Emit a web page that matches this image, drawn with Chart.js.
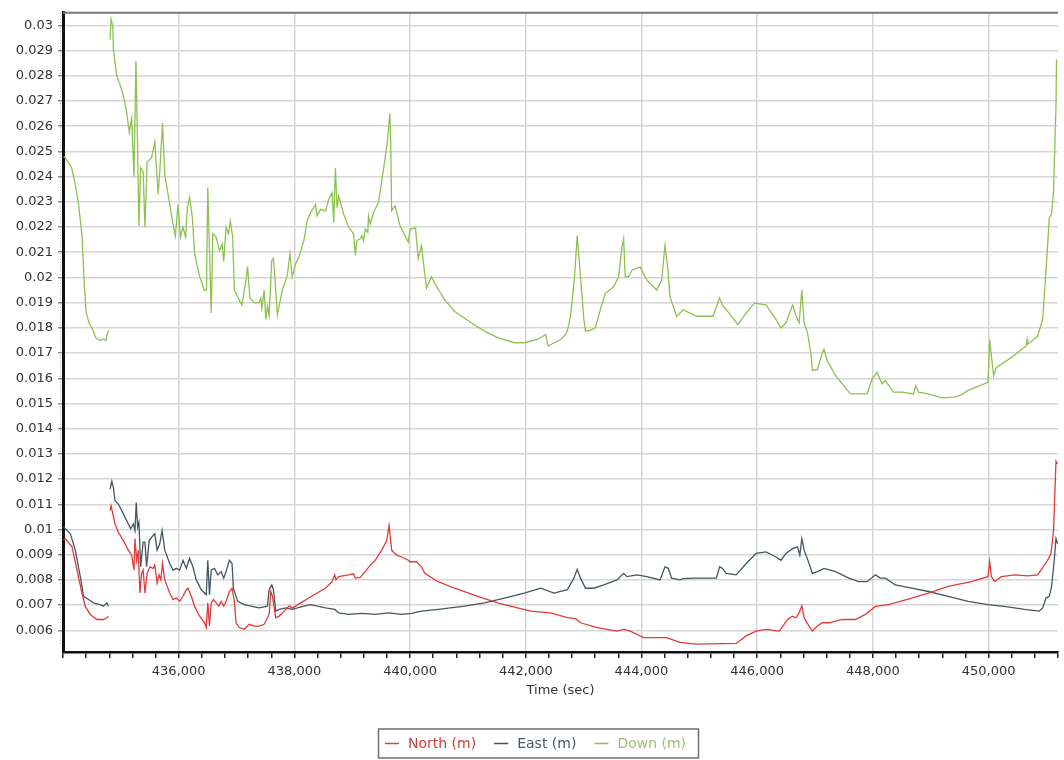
<!DOCTYPE html>
<html>
<head>
<meta charset="utf-8">
<script src="https://cdn.jsdelivr.net/npm/chart.js@4.4.1/dist/chart.umd.min.js"></script>
<style>
html,body{margin:0;padding:0;background:#fff;}
#wrap{width:1064px;height:760px;position:relative;}
</style>
</head>
<body>
<div id="wrap"><canvas id="c" width="1064" height="760"></canvas></div>
<script>
// ---- data (time in sec, values in m) ----
const northTime = [434010,434041,434156,434242,434328,434385,434471,434586,434699,434758,434785,434800,
434814,434832,434861,434900,434957,435043,435129,435187,435227,435244,435273,435301,435330,435359,435386,435416,435455,435502,435558,435587,435627,435661,435691,435720,435759,435845,435902,435960,436017,436074,436132,436160,436218,436275,436361,436446,436476,436503,436532,436562,436601,436647,436692,436733,436778,436819,436876,436922,436962,436991,437048,437134,437220,437305,437391,437477,437534,437563,437592,437620,437678,437735,437821,437907,437963,438022,438108,438250,438393,438537,438651,438697,438719,438766,438938,439023,439053,439139,439224,439281,439396,439510,439596,439637,439681,439767,439853,439968,439998,440111,440197,440255,440484,440771,441171,441515,441858,442087,442430,442717,442860,442946,443233,443576,443691,443805,444035,444435,444664,444951,445638,445810,445981,446153,446382,446526,446612,446669,446725,446772,446811,446897,446955,447041,447127,447241,447471,447699,447871,448043,448271,448673,448959,449302,449704,449990,450019,450048,450105,450220,450448,450677,450848,450907,451020,451079,451123,451165,451190];
const northValue = [0.0096,0.00964,0.00931,0.00839,0.00748,0.00695,0.00663,0.00643,0.00643,0.0065,0.00656,null,
0.01075,0.01094,0.01062,0.01022,0.00989,0.00957,0.00918,0.00898,0.00839,0.00964,0.00878,0.00918,0.00748,0.00826,0.00839,0.00748,0.00826,0.00852,0.00846,0.00859,0.00787,0.0082,0.008,0.00865,0.008,0.00748,0.00722,0.00728,0.00715,0.00735,0.00761,0.00767,0.00735,0.00695,0.00656,0.0063,0.00611,0.00709,0.00617,0.00709,0.00722,0.00709,0.00696,0.00715,0.00696,0.00715,0.00754,0.00767,0.00715,0.0063,0.00611,0.00604,0.00624,0.00617,0.00617,0.00624,0.0065,0.00663,0.00754,0.00735,0.0065,0.00656,0.00676,0.00696,0.00689,0.00696,0.00709,0.00728,0.00748,0.00767,0.00793,0.0082,0.008,0.00813,0.0082,0.00824,0.00807,0.0081,0.00833,0.0085,0.00878,0.00918,0.00957,0.01016,0.00918,0.00898,0.00891,0.00878,0.00872,0.00872,0.00852,0.00826,0.00793,0.00767,0.00735,0.00709,0.00689,0.00676,0.00669,0.0065,0.00646,0.0063,0.00611,0.00597,0.00604,0.00597,0.00571,0.00571,0.00552,0.00545,0.00548,0.00578,0.00597,0.00604,0.00597,0.00643,0.00656,0.0065,0.00669,0.00698,0.0065,0.00617,0.00597,0.00617,0.0063,0.0063,0.00643,0.00643,0.00663,0.00695,0.00702,0.00728,0.00748,0.00774,0.00793,0.00813,0.00872,0.00813,0.00793,0.00813,0.0082,0.00816,0.0082,0.00839,0.00878,0.00905,0.00996,0.01271,0.0126];

const eastTime = [434010,434041,434127,434213,434299,434356,434442,434527,434643,434699,434758,434785,434800,
434814,434844,434871,434900,434957,435043,435129,435170,435215,435244,435266,435290,435313,435342,435386,435416,435445,435490,435558,435587,435627,435673,435713,435759,435845,435902,435960,436017,436074,436132,436189,436245,436304,436390,436476,436503,436532,436562,436618,436675,436733,436778,436819,436876,436922,436945,437019,437134,437249,437391,437534,437563,437609,437637,437678,437735,437850,437963,438164,438280,438537,438697,438766,438938,439166,439396,439625,439853,440025,440197,440484,440942,441286,441630,441973,442258,442489,442717,442832,442889,442946,443032,443176,443348,443576,443662,443691,443748,443920,444092,444320,444406,444464,444521,444664,444722,444951,445294,445351,445397,445466,445638,445810,445981,446153,446325,446411,446497,446612,446698,446737,446772,446811,446897,446955,447041,447155,447356,447584,447756,447900,448043,448129,448215,448387,448673,448959,449302,449646,449990,450333,450620,450878,450934,450993,451050,451089,451135,451165,451192];
const eastValue = [0.0101,0.01003,0.00983,0.00918,0.00813,0.00735,0.00722,0.00709,0.00702,0.00696,0.00709,0.00696,null,
0.0116,0.01192,0.01166,0.01114,0.01101,0.01062,0.01022,0.01003,0.01022,0.00996,0.01107,0.01009,0.01029,0.00852,0.0095,0.0095,0.00852,0.00957,0.00976,0.00983,0.00918,0.00944,0.00996,0.00918,0.00865,0.00839,0.00846,0.00839,0.00878,0.00846,0.00885,0.00852,0.008,0.00761,0.00741,0.00878,0.00741,0.00839,0.00846,0.0082,0.00833,0.00807,0.00833,0.00878,0.00865,0.00767,0.00715,0.00702,0.00696,0.00689,0.00696,0.00761,0.0078,0.00761,0.00676,0.00683,0.00689,0.00683,0.00696,0.00702,0.00689,0.00683,0.00669,0.00663,0.00667,0.00663,0.00669,0.00663,0.00667,0.00676,0.00683,0.00696,0.00709,0.00728,0.00748,0.00767,0.00748,0.00761,0.00807,0.00842,0.00807,0.00767,0.00767,0.0078,0.008,0.0082,0.00826,0.00813,0.0082,0.00813,0.008,0.00852,0.00846,0.00807,0.008,0.00805,0.00807,0.00807,0.00852,0.00846,0.00826,0.0082,0.00865,0.00905,0.00911,0.00891,0.00878,0.00905,0.00924,0.00931,0.00898,0.00964,0.00918,0.00865,0.00826,0.00833,0.00846,0.00833,0.00807,0.00793,0.00793,0.0082,0.00807,0.00807,0.0078,0.00767,0.00754,0.00735,0.00715,0.00702,0.00693,0.00683,0.00676,0.00689,0.00728,0.00735,0.00774,0.00878,0.00964,0.00944];

const downTime = [434010,434040,434150,434210,434270,434330,434370,434400,434450,434500,434570,434640,434700,434740,434770,434790,434800,
434814,434832,434861,434871,434929,434974,435043,435101,435146,435187,435227,435261,435283,435313,435342,435386,435416,435455,435531,435587,435644,435673,435720,435759,435845,435902,435943,435988,436029,436074,436120,436149,436189,436235,436275,436361,436446,436480,436503,436562,436589,436647,436704,436751,436778,436819,436859,436893,436933,436962,437094,437163,437190,437232,437305,437391,437420,437438,437477,437506,437534,437563,437609,437637,437666,437706,437792,437878,437924,437963,438022,438079,438164,438221,438280,438365,438393,438451,438537,438594,438651,438680,438709,438737,438766,438852,438938,439023,439053,439080,439139,439166,439195,439224,439269,439281,439310,439367,439453,439510,439568,439613,439650,439664,439681,439740,439826,439968,439998,440094,440140,440197,440226,440283,440369,440427,440599,440771,441056,441286,441515,441801,441973,442202,442344,442386,442489,442602,442688,442717,442774,442843,442889,442946,443004,443032,443117,443200,443289,443375,443519,443605,443662,443691,443719,443777,443834,443976,444092,444263,444349,444406,444452,444492,444607,444722,444951,445237,445351,445400,445466,445667,445810,445952,446153,446325,446411,446497,446612,446669,446725,446772,446811,446870,446926,446955,447041,447127,447155,447213,447356,447613,447900,447986,448072,448158,448215,448357,448502,448701,448742,448787,448959,449189,449417,449532,449646,449990,450019,450048,450087,450134,450391,450649,450666,450677,450848,450934,450993,451050,451089,451123,451165,451175];
const downValue = [0.0248,0.02475,0.02435,0.0237,0.0229,0.0216,0.01965,0.0186,0.0182,0.018,0.0176,0.0175,0.01755,0.0175,0.0178,0.0179,null,
0.02944,0.03024,0.02996,0.02906,0.028,0.02773,0.02722,0.02655,0.02576,0.02631,0.024,0.02859,0.02604,0.02204,0.02435,0.0242,0.022,0.02459,0.02475,0.02537,0.02329,0.0242,0.02612,0.02408,0.0229,0.02212,0.02165,0.0229,0.0216,0.022,0.0216,0.02278,0.02318,0.0224,0.02094,0.02004,0.01949,0.0195,0.02357,0.01859,0.02173,0.0216,0.02106,0.02133,0.02063,0.022,0.02173,0.02224,0.0216,0.01949,0.0189,0.0199,0.02043,0.01918,0.019,0.019,0.01918,0.01878,0.0195,0.01833,0.01886,0.01847,0.02068,0.02075,0.0199,0.01852,0.0195,0.02009,0.02094,0.02003,0.02055,0.02081,0.02146,0.02225,0.02258,0.0229,0.02244,0.0227,0.02264,0.0231,0.02336,0.02218,0.02434,0.02277,0.02323,0.02251,0.02199,0.02173,0.02087,0.02146,0.02153,0.02166,0.02146,0.02192,0.02179,0.02244,0.02212,0.02258,0.02297,0.02382,0.02473,0.02552,0.0265,0.02545,0.02264,0.02284,0.02205,0.0214,0.02192,0.02196,0.02075,0.02127,0.02068,0.01957,0.02003,0.01976,0.01911,0.01865,0.0182,0.01787,0.01761,0.01741,0.01741,0.01754,0.01774,0.01728,0.01741,0.01754,0.01774,0.01787,0.01846,0.02003,0.02166,0.02003,0.01833,0.01787,0.0179,0.018,0.01872,0.01937,0.01963,0.02003,0.0212,0.02153,0.02003,0.02003,0.02029,0.02042,0.0199,0.0195,0.0199,0.02127,0.02042,0.01924,0.01846,0.01872,0.01846,0.01846,0.01918,0.0189,0.01872,0.01813,0.01859,0.01898,0.01891,0.01833,0.018,0.0182,0.01891,0.0185,0.0182,0.0195,0.0182,0.0178,0.01702,0.0163,0.01635,0.01702,0.01715,0.01669,0.0161,0.01538,0.01538,0.01597,0.01624,0.01578,0.01591,0.01545,0.01545,0.01538,0.01571,0.01545,0.01538,0.01522,0.01525,0.01534,0.01552,0.01584,0.01754,0.01689,0.0161,0.01643,0.01682,0.01728,0.01754,0.01735,0.01767,0.01833,0.02029,0.02238,0.02251,0.02342,0.02682,0.02865];

const seriesLabels = ['North (m)', 'East (m)', 'Down (m)'];
const xLabelTicks = [436000, 438000, 440000, 442000, 444000, 446000, 448000, 450000];
const yTickValues = [0.006,0.007,0.008,0.009,0.010,0.011,0.012,0.013,0.014,0.015,0.016,0.017,0.018,0.019,0.020,0.021,0.022,0.023,0.024,0.025,0.026,0.027,0.028,0.029,0.030];
const xMin = 434000, xMax = 451200, xMinorStep = 400;
const yMin = 0.00514, yMax = 0.0305;

// ---- styling ----
const colors = ['#e03a3a', '#44575f', '#8fc152'];
const textColors = ['#c9403f', '#4a5860', '#9cc078'];
const FONT = 'DejaVu Sans';

function toPoints(ts, vs) { return ts.map((t, i) => ({x: t, y: vs[i]})); }

const xTicks = [];
for (let v = xMin; v <= xMax; v += xMinorStep) xTicks.push(v);

const framePlugin = {
  id: 'frame',
  afterDraw(chart) {
    const {ctx, chartArea} = chart;
    ctx.save();
    // top border
    ctx.strokeStyle = '#777';
    ctx.lineWidth = 2;
    ctx.beginPath();
    ctx.moveTo(chartArea.left, chartArea.top);
    ctx.lineTo(chartArea.right, chartArea.top);
    ctx.stroke();
    // dotted minor marks left of the y axis
    ctx.strokeStyle = '#aaa';
    ctx.lineWidth = 1;
    ctx.setLineDash([1, 2]);
    ctx.beginPath();
    ctx.moveTo(chartArea.left - 2.5, chartArea.top);
    ctx.lineTo(chartArea.left - 2.5, chartArea.bottom - 8);
    ctx.stroke();
    ctx.setLineDash([]);
    // legend
    ctx.font = '14px "' + FONT + '"';
    const lineW = 14, gapLT = 9, gapItems = 18, padL = 7, padR = 12;
    const widths = chart.data.datasets.map(d => ctx.measureText(d.label).width);
    let total = padL + padR;
    widths.forEach((w, i) => { total += lineW + gapLT + w + (i < widths.length - 1 ? gapItems : 0); });
    const cx = 538, cy = 743, boxH = 29;
    const left = Math.round(cx - total / 2);
    ctx.strokeStyle = '#6f6f6f';
    ctx.lineWidth = 1.5;
    ctx.strokeRect(left + 0.5, cy - boxH / 2 + 0.5, Math.round(total), boxH);
    let x = left + padL;
    ctx.textBaseline = 'middle';
    ctx.textAlign = 'left';
    chart.data.datasets.forEach((d, i) => {
      ctx.strokeStyle = d.borderColor;
      ctx.lineWidth = 1.5;
      ctx.beginPath();
      ctx.moveTo(x, cy + 0.5);
      ctx.lineTo(x + lineW, cy + 0.5);
      ctx.stroke();
      x += lineW + gapLT;
      ctx.fillStyle = textColors[i];
      ctx.fillText(d.label, x, cy + 1);
      x += widths[i] + gapItems;
    });
    ctx.restore();
  }
};

new Chart(document.getElementById('c'), {
  type: 'line',
  data: {
    datasets: [
      {label: seriesLabels[0], data: toPoints(northTime, northValue), borderColor: colors[0]},
      {label: seriesLabels[1], data: toPoints(eastTime, eastValue), borderColor: colors[1]},
      {label: seriesLabels[2], data: toPoints(downTime, downValue), borderColor: colors[2]}
    ].map(d => Object.assign(d, {borderWidth: 1.3, pointRadius: 0, tension: 0, fill: false, spanGaps: false}))
  },
  options: {
    responsive: false,
    devicePixelRatio: 1,
    animation: false,
    layout: {padding: {top: 6, left: 0, right: 0, bottom: 48}},
    plugins: {legend: {display: false}, tooltip: {enabled: false}},
    scales: {
      x: {
        type: 'linear', min: xMin, max: xMax,
        afterBuildTicks: s => { s.ticks = xTicks.map(v => ({value: v})); },
        afterFit: s => { s.height = 60; },
        ticks: {
          autoSkip: false, maxRotation: 0, minRotation: 0, padding: 6,
          color: '#333', font: {family: FONT, size: 13},
          callback: v => xLabelTicks.includes(v) ? v.toLocaleString('en-US') : ''
        },
        grid: {
          color: c => (c.tick && xLabelTicks.includes(c.tick.value)) ? '#d6d6d6' : 'rgba(0,0,0,0)',
          lineWidth: 1.5, tickLength: 6, tickColor: '#222', tickWidth: 1.5
        },
        border: {color: '#111', width: 2.5},
        title: {display: true, text: 'Time (sec)', color: '#333', font: {family: FONT, size: 13}, padding: {top: 2, bottom: 14}}
      },
      y: {
        type: 'linear', min: yMin, max: yMax,
        afterBuildTicks: s => { s.ticks = yTickValues.map(v => ({value: v})); },
        afterFit: s => { s.width = 63; },
        ticks: {
          color: '#333', font: {family: FONT, size: 13}, padding: 5,
          callback: v => String(Number(v.toFixed(3)))
        },
        grid: {color: '#d6d6d6', lineWidth: 1.5, tickLength: 5, tickColor: '#888'},
        border: {color: '#111', width: 3}
      }
    }
  },
  plugins: [framePlugin]
});
</script>
</body>
</html>
